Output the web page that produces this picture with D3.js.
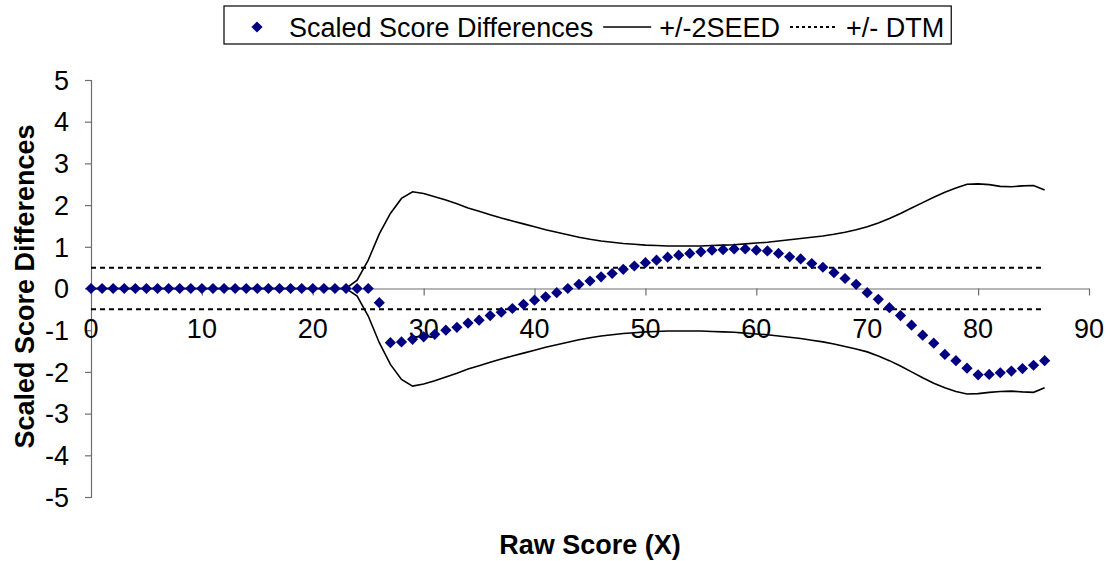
<!DOCTYPE html>
<html>
<head>
<meta charset="utf-8">
<script src="https://cdn.jsdelivr.net/npm/d3@7"></script>
<style>
  html, body { margin: 0; padding: 0; background: #fff; }
  svg { display: block; font-family: "Liberation Sans", Arial, sans-serif; }
</style>
</head>
<body>
<svg id="chart" width="1110" height="561"></svg>
<script>
// Raw scores 0..86
const rawScores = d3.range(0, 87);

// Scaled score differences at each raw score
const scoreDiffs = [
  0, 0, 0, 0, 0, 0, 0, 0, 0, 0,
  0, 0, 0, 0, 0, 0, 0, 0, 0, 0,
  0, 0, 0, 0, 0, 0, -0.34, -1.30, -1.28, -1.22,
  -1.16, -1.10, -1.00, -0.93, -0.83, -0.76, -0.65, -0.57, -0.48, -0.38,
  -0.28, -0.20, -0.10, 0.00, 0.10, 0.18, 0.28, 0.36, 0.46, 0.54,
  0.62, 0.68, 0.75, 0.80, 0.84, 0.88, 0.92, 0.93, 0.95, 0.95,
  0.92, 0.90, 0.84, 0.76, 0.71, 0.60, 0.51, 0.38, 0.24, 0.10,
  -0.10, -0.26, -0.46, -0.65, -0.88, -1.12, -1.31, -1.58, -1.73, -1.91,
  -2.07, -2.06, -2.02, -1.98, -1.92, -1.84, -1.73
];

// Upper band: +2 SEED
const seedUpper = [
  0, 0, 0, 0, 0, 0, 0, 0, 0, 0,
  0, 0, 0, 0, 0, 0, 0, 0, 0, 0,
  0, 0, 0, 0, 0.20, 0.68, 1.31, 1.80, 2.16, 2.32,
  2.28, 2.20, 2.12, 2.03, 1.93, 1.85, 1.77, 1.69, 1.62, 1.55,
  1.48, 1.41, 1.35, 1.29, 1.23, 1.18, 1.14, 1.11, 1.08, 1.06,
  1.04, 1.03, 1.02, 1.02, 1.02, 1.02, 1.03, 1.04, 1.05, 1.07,
  1.09, 1.11, 1.14, 1.17, 1.20, 1.23, 1.26, 1.30, 1.35, 1.41,
  1.48, 1.57, 1.68, 1.80, 1.93, 2.06, 2.19, 2.31, 2.41, 2.50,
  2.51, 2.49, 2.45, 2.44, 2.46, 2.47, 2.36
];

// Lower band: -2 SEED
const seedLower = [
  0, 0, 0, 0, 0, 0, 0, 0, 0, 0,
  0, 0, 0, 0, 0, 0, 0, 0, 0, 0,
  0, 0, 0, 0, -0.18, -0.66, -1.30, -1.82, -2.18, -2.34,
  -2.29, -2.21, -2.12, -2.03, -1.93, -1.85, -1.77, -1.69, -1.62, -1.55,
  -1.48, -1.41, -1.35, -1.29, -1.23, -1.18, -1.14, -1.11, -1.08, -1.06,
  -1.04, -1.03, -1.02, -1.02, -1.02, -1.02, -1.03, -1.04, -1.05, -1.07,
  -1.09, -1.11, -1.14, -1.17, -1.20, -1.24, -1.28, -1.33, -1.39, -1.45,
  -1.52, -1.62, -1.73, -1.86, -2.00, -2.14, -2.27, -2.38, -2.47, -2.53,
  -2.52, -2.49, -2.47, -2.46, -2.48, -2.49, -2.38
];

// Difference That Matters bounds
const dtmUpper = 0.5;
const dtmLower = -0.5;

const xTicks = [0, 10, 20, 30, 40, 50, 60, 70, 80, 90];
const yTicks = [-5, -4, -3, -2, -1, 0, 1, 2, 3, 4, 5];

const legendLabels = ["Scaled Score Differences", "+/-2SEED", "+/- DTM"];
const xTitle = "Raw Score (X)";
const yTitle = "Scaled Score Differences";

const svg = d3.select("#chart");
const fontSize = 27;
const navy = "#000080";
const axisColor = "#6e6e6e";

const x = d3.scaleLinear().domain([0, 90]).range([91, 1089]);
const y = d3.scaleLinear().domain([-5, 5]).range([497, 80]);

// Y axis (tick marks only; labels drawn separately)
const yAxis = svg.append("g")
  .attr("transform", `translate(${x(0)},0)`)
  .call(d3.axisLeft(y).tickValues(yTicks).tickSize(6).tickFormat(""));
yAxis.select(".domain").attr("stroke", axisColor).attr("stroke-width", 1.2);
yAxis.selectAll(".tick line").attr("stroke", axisColor).attr("stroke-width", 1.2);

svg.append("g").selectAll("text")
  .data(yTicks).join("text")
  .attr("x", 69)
  .attr("y", d => y(d))
  .attr("dy", "0.36em")
  .attr("text-anchor", "end")
  .attr("font-size", fontSize)
  .text(d => d);

// X axis crossing at zero
const xAxis = svg.append("g")
  .attr("transform", `translate(0,${y(0)})`)
  .call(d3.axisBottom(x).tickValues(xTicks).tickSize(7).tickFormat("").tickSizeOuter(0));
xAxis.select(".domain").attr("stroke", axisColor).attr("stroke-width", 1.2);
xAxis.selectAll(".tick line").attr("stroke", axisColor).attr("stroke-width", 1.2);

svg.append("g").selectAll("text")
  .data(xTicks).join("text")
  .attr("x", d => x(d))
  .attr("y", 338)
  .attr("text-anchor", "middle")
  .attr("font-size", fontSize)
  .text(d => d);

// DTM reference lines
const lastScore = rawScores[rawScores.length - 1];
[dtmUpper, dtmLower].forEach(v => {
  svg.append("line")
    .attr("x1", x(0)).attr("x2", x(lastScore))
    .attr("y1", y(v)).attr("y2", y(v))
    .attr("stroke", "#000")
    .attr("stroke-width", 2)
    .attr("stroke-dasharray", "5,4");
});

// SEED band lines
const line = d3.line().x((d, i) => x(rawScores[i])).y(d => y(d));
[seedUpper, seedLower].forEach(arr => {
  svg.append("path")
    .datum(arr)
    .attr("d", line)
    .attr("fill", "none")
    .attr("stroke", "#000")
    .attr("stroke-width", 1.6);
});

// Diamonds for the score differences
const diamond = d3.symbol().type(d3.symbolDiamond2).size(80);
svg.append("g").selectAll("path")
  .data(scoreDiffs).join("path")
  .attr("d", diamond)
  .attr("transform", (d, i) => `translate(${x(rawScores[i])},${y(d)})`)
  .attr("fill", navy);

// Axis titles
svg.append("text")
  .attr("x", x(45))
  .attr("y", 554)
  .attr("text-anchor", "middle")
  .attr("font-size", fontSize)
  .attr("font-weight", "bold")
  .text(xTitle);

svg.append("text")
  .attr("transform", `translate(34,${y(0) - 2}) rotate(-90)`)
  .attr("text-anchor", "middle")
  .attr("font-size", fontSize)
  .attr("font-weight", "bold")
  .text(yTitle);

// Legend
const legend = svg.append("g");
const legY = 27;
const boxLeft = 224;
const box = legend.append("rect")
  .attr("x", boxLeft).attr("y", 6)
  .attr("height", 38)
  .attr("fill", "#fff")
  .attr("stroke", "#000")
  .attr("stroke-width", 1.2);

legend.append("path")
  .attr("d", diamond)
  .attr("transform", `translate(257,${legY})`)
  .attr("fill", navy);

let cx = 289;
const t1 = legend.append("text").attr("x", cx).attr("y", legY).attr("dy", "0.36em")
  .attr("font-size", fontSize).text(legendLabels[0]);
cx += t1.node().getComputedTextLength() + 10;

legend.append("line")
  .attr("x1", cx).attr("x2", cx + 48)
  .attr("y1", legY).attr("y2", legY)
  .attr("stroke", "#000").attr("stroke-width", 1.6);
cx += 48 + 8;

const t2 = legend.append("text").attr("x", cx).attr("y", legY).attr("dy", "0.36em")
  .attr("font-size", fontSize).text(legendLabels[1]);
cx += t2.node().getComputedTextLength() + 10;

legend.append("line")
  .attr("x1", cx).attr("x2", cx + 48)
  .attr("y1", legY).attr("y2", legY)
  .attr("stroke", "#000").attr("stroke-width", 2)
  .attr("stroke-dasharray", "3,3");
cx += 48 + 8;

const t3 = legend.append("text").attr("x", cx).attr("y", legY).attr("dy", "0.36em")
  .attr("font-size", fontSize).text(legendLabels[2]);
cx += t3.node().getComputedTextLength() + 7;

box.attr("width", cx - boxLeft);
</script>
</body>
</html>
